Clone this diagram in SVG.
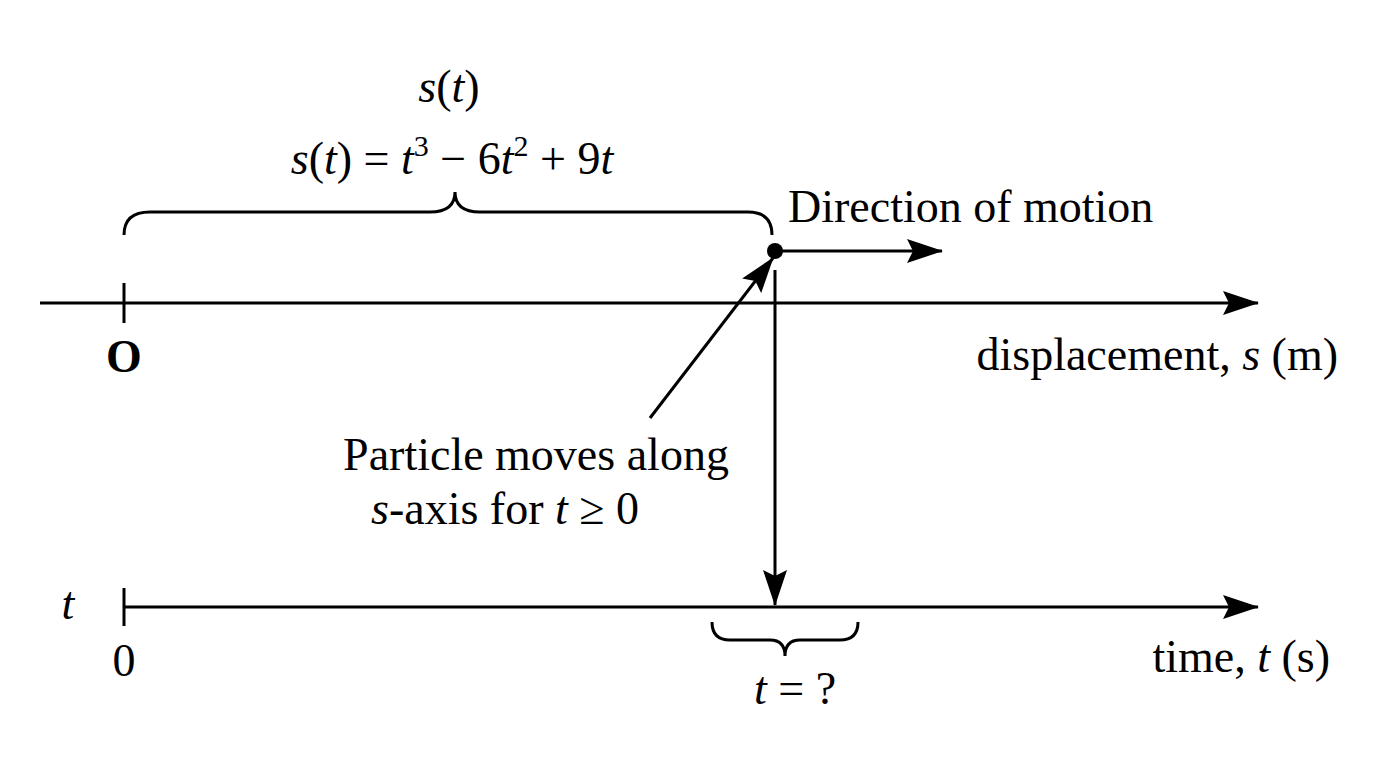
<svg xmlns="http://www.w3.org/2000/svg" width="1376" height="768" viewBox="0 0 1376 768">
<style>
text{font-family:"Liberation Serif",serif;font-size:46px;fill:#000}
.i{font-style:italic}
.l{stroke:#000;stroke-width:3;fill:none}
</style>
<defs><marker id="b" markerWidth="36" markerHeight="24" refX="35" refY="12" orient="auto" markerUnits="userSpaceOnUse" viewBox="0 0 36 24"><path d="M0,0 L36,12 L0,24 L6,12 Z"/></marker></defs>
<rect width="1376" height="768" fill="#fff"/>
<g id="connectors">
<line class="l" x1="40" y1="303" x2="1258" y2="303" marker-end="url(#b)"/>
<line class="l" x1="124" y1="283" x2="124" y2="323"/>
<line class="l" x1="124" y1="607" x2="1258" y2="607" marker-end="url(#b)"/>
<line class="l" x1="124" y1="588" x2="124" y2="626"/>
<line class="l" x1="775" y1="270" x2="775" y2="605" marker-end="url(#b)"/>
<line class="l" x1="775" y1="251" x2="942" y2="251" marker-end="url(#b)"/>
<line class="l" x1="650" y1="418" x2="773" y2="258" marker-end="url(#b)"/>
<path class="l" d="M124,235 Q124,212 150,212 L430,212 Q455,212 455,192 Q455,212 480,212 L748,212 Q772,212 772,235"/>
<path class="l" d="M712,622 Q712,640 730,640 L770,640 Q785,640 785,656 Q785,640 800,640 L840,640 Q858,640 858,622"/>
</g>
<g id="particle"><circle cx="775" cy="251" r="8"/></g>
<g id="labels">
<text x="449" y="102" text-anchor="middle"><tspan class="i">s</tspan>(<tspan class="i">t</tspan>)</text>
<text x="452" y="174" text-anchor="middle"><tspan class="i">s</tspan>(<tspan class="i">t</tspan>) = <tspan class="i">t</tspan><tspan font-size="30" dy="-18">3</tspan><tspan dy="18"> − 6</tspan><tspan class="i">t</tspan><tspan font-size="30" dy="-18">2</tspan><tspan dy="18"> + 9</tspan><tspan class="i">t</tspan></text>
<text x="788" y="222">Direction of motion</text>
<text x="124" y="372" text-anchor="middle" font-weight="bold">O</text>
<text x="1338" y="370" text-anchor="end">displacement, <tspan class="i">s</tspan> (m)</text>
<text x="536" y="470" text-anchor="middle">Particle moves along</text>
<text x="505" y="524" text-anchor="middle"><tspan class="i">s</tspan>-axis for <tspan class="i">t</tspan> ≥ 0</text>
<text x="68" y="619" text-anchor="middle" class="i">t</text>
<text x="124" y="676" text-anchor="middle">0</text>
<text x="1330" y="672" text-anchor="end">time, <tspan class="i">t</tspan> (s)</text>
<text x="795" y="704" text-anchor="middle"><tspan class="i">t</tspan> = ?</text>
</g>
</svg>
